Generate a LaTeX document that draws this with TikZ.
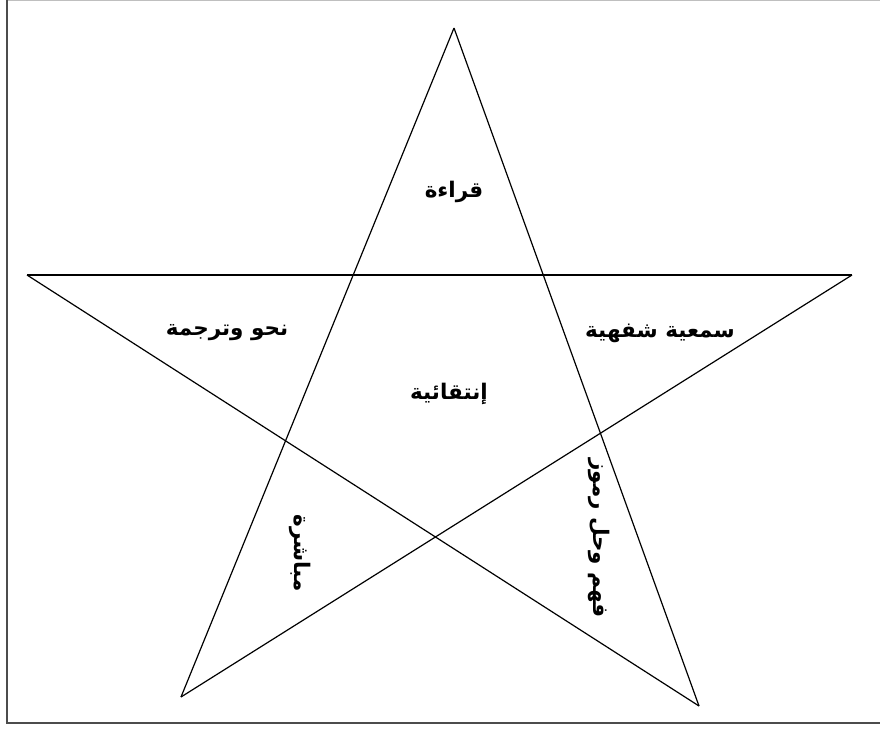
\documentclass[tikz,border=0pt]{standalone}
\usepackage{fontspec}
\newfontfamily\arabicfont[Script=Arabic]{DejaVu Sans}
\TeXXeTstate=1
\begin{document}
\begin{tikzpicture}[x=1pt,y=-1pt,
  lbl/.style={font=\arabicfont\bfseries\fontsize{21.5}{24}\selectfont, inner sep=1pt},
  edge/.style={draw=black, line width=1.2pt}]
\useasboundingbox (0,0) rectangle (880,728);
% frame
\draw[draw=gray!50, line width=1pt] (7,0.5) -- (880,0.5);
\draw[draw=black!70, line width=1.6pt] (7,0) -- (7,723) -- (880,723);
% star vertices
\coordinate (T) at (454,28);
\coordinate (L) at (27,275);
\coordinate (R) at (852,275);
\coordinate (BL) at (181,697);
\coordinate (BR) at (699,706);
\draw[edge] (T) -- (BL);
\draw[edge] (T) -- (BR);
\draw[edge] (L) -- (R);
\draw[edge] (L) -- (BR);
\draw[edge] (R) -- (BL);
% labels
\node[lbl] (top) at (454,192) {\beginR قراءة\endR};
\node[lbl] (left) at (227,333) {\beginR نحو وترجمة\endR};
\node[lbl] (right) at (660,333) {\beginR سمعية شفهية\endR};
\node[lbl] (center) at (449,394) {\beginR إنتقائية\endR};
\node[lbl, rotate=-90] (bl) at (300,553) {\beginR مباشرة\endR};
\node[lbl, rotate=-90] (br) at (599,538) {\beginR فهم وحل رموز\endR};
\end{tikzpicture}
\end{document}
